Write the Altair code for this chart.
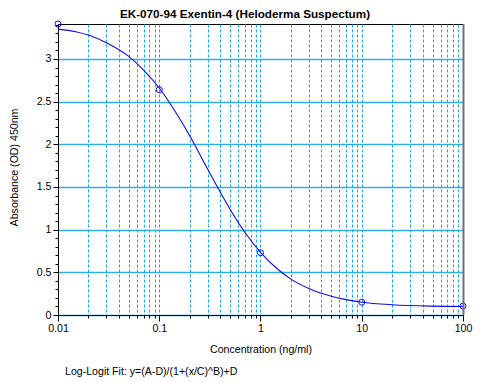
import altair as alt
import pandas as pd

title_text = "EK-070-94 Exentin-4 (Heloderma Suspectum)"
x_title = "Concentration (ng/ml)"
y_title = "Absorbance (OD) 450nm"
footer_text = "Log-Logit Fit: y=(A-D)/(1+(x/C)^B)+D"

# standards (circles)
std_conc = [0.01, 0.1, 1, 10, 100]
std_od = [3.41, 2.64, 0.73, 0.15, 0.105]

# fitted curve
fit_conc = [0.01, 0.015, 0.02, 0.03, 0.05, 0.07, 0.1, 0.15, 0.2, 0.3, 0.5, 0.7,
            1, 1.5, 2, 3, 5, 7, 10, 20, 50, 100]
fit_od = [3.35, 3.32, 3.28, 3.19, 3.03, 2.87, 2.66, 2.35, 2.10, 1.71, 1.24, 0.97,
          0.735, 0.53, 0.42, 0.31, 0.22, 0.18, 0.15, 0.12, 0.104, 0.10]

x_ticks = [0.01, 0.02, 0.03, 0.04, 0.05, 0.06, 0.07, 0.08, 0.09,
           0.1, 0.2, 0.3, 0.4, 0.5, 0.6, 0.7, 0.8, 0.9,
           1, 2, 3, 4, 5, 6, 7, 8, 9,
           10, 20, 30, 40, 50, 60, 70, 80, 90, 100]
y_ticks = [0, 0.1, 0.2, 0.3, 0.4, 0.5, 0.6, 0.7, 0.8, 0.9, 1, 1.1, 1.2, 1.3, 1.4,
           1.5, 1.6, 1.7, 1.8, 1.9, 2, 2.1, 2.2, 2.3, 2.4, 2.5, 2.6, 2.7, 2.8, 2.9,
           3, 3.1, 3.2, 3.3, 3.4]

FONT = "Liberation Sans"
FS = 10.6
W, H = 405, 291
BLUE = "#0c0cf0"

std_df = pd.DataFrame({"conc": std_conc, "od": std_od})
fit_df = pd.DataFrame({"conc": fit_conc, "od": fit_od})
one = pd.DataFrame({"a": [0]})

x_scale = alt.Scale(type="log", domain=[0.01, 100], nice=False)
y_scale = alt.Scale(domain=[0, 3.41], nice=False, zero=True)

dec = "abs(log(datum.value)/LN10 - round(log(datum.value)/LN10)) < 1e-6"
half = "abs(datum.value*2 - round(datum.value*2)) < 1e-6"

x_axis = alt.Axis(
    values=x_ticks, title=None, grid=True, gridDash=[3, 2], gridColor="#1aa8e2",
    gridWidth=1, labelExpr=f"({dec}) ? '' + datum.value : ''",
    tickSize={"condition": {"test": dec, "value": 6}, "value": 3},
    tickColor="black", domainColor="black", labelFont=FONT, labelFontSize=FS,
    labelColor="black", labelPadding=2, labelFlush=False, labelOverlap=False,
    labelBound=False,
)
y_axis = alt.Axis(
    values=y_ticks, title=None, grid=True, gridColor="#2cb0e6", gridWidth=1.3,
    gridOpacity={"condition": {"test": half, "value": 1}, "value": 0},
    labelExpr=f"({half}) ? '' + datum.value : ''",
    tickSize={"condition": {"test": half, "value": 5}, "value": 3},
    tickColor="black", domainColor="black", labelFont=FONT, labelFontSize=FS,
    labelColor="black", labelPadding=2, labelFlush=False, labelOverlap=False,
    labelBound=False,
)

curve = alt.Chart(fit_df).mark_line(
    color=BLUE, strokeWidth=1.1, interpolate="monotone"
).encode(
    x=alt.X("conc:Q", scale=x_scale, axis=x_axis),
    y=alt.Y("od:Q", scale=y_scale, axis=y_axis),
)

points = alt.Chart(std_df).mark_point(
    shape="circle", filled=False, color=BLUE, size=36, strokeWidth=1, opacity=1
).encode(
    x=alt.X("conc:Q", scale=x_scale, axis=x_axis),
    y=alt.Y("od:Q", scale=y_scale, axis=y_axis),
)

right_border = alt.Chart(one).mark_rule(color="#707070", strokeWidth=2).encode(
    x=alt.value(W + 0.5), y=alt.value(0), y2=alt.value(H)
)


def label(txt, x, y, align="center", angle=0, weight="normal", size=FS):
    return alt.Chart(one).mark_text(
        text=txt, align=align, baseline="alphabetic", angle=angle,
        font=FONT, fontSize=size, fontWeight=weight, color="black"
    ).encode(x=alt.value(x), y=alt.value(y))


title = label(title_text, 187, -6, weight="bold", size=11.7)
xt = label(x_title, 203, 328.5)
yt = label(y_title, -40, 143.5, angle=270)
foot = label(footer_text, 7, 351, align="left")

chart = alt.layer(curve, points, right_border, title, xt, yt, foot).properties(
    width=W, height=H,
    autosize=alt.AutoSizeParams(type="none"),
    padding={"left": 50, "top": 16, "right": 15, "bottom": 65},
    background="white",
).configure_view(stroke="black", strokeWidth=1)

chart.save("out.html", embed_options={"renderer": "svg", "actions": False})
